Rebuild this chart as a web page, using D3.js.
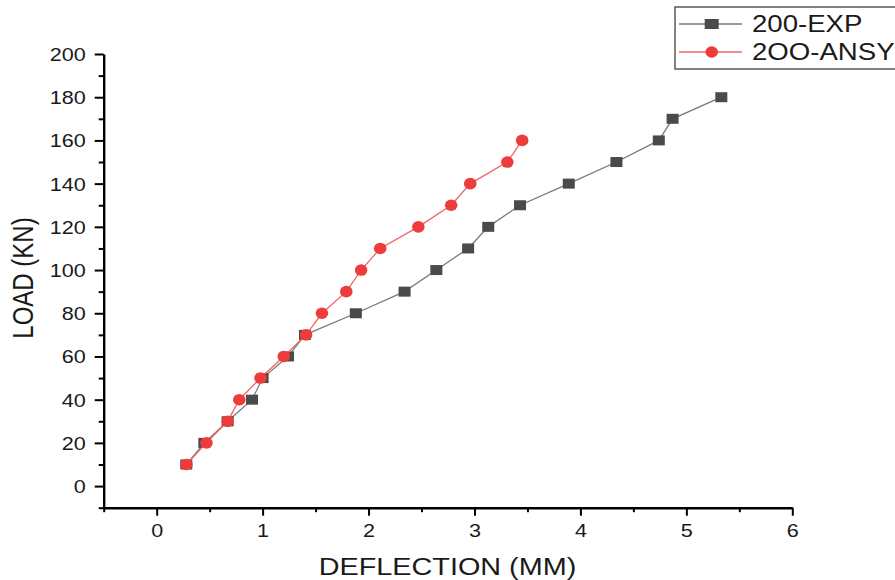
<!DOCTYPE html>
<html>
<head>
<meta charset="utf-8">
<title>Load vs Deflection</title>
<script src="https://d3js.org/d3.v7.min.js"></script>
<style>
  body { margin: 0; background: #fff; }
  svg { display: block; font-family: "Liberation Sans", Arial, sans-serif; }
</style>
</head>
<body>
<script>
// data
var expDefl   = [0.28, 0.45, 0.67, 0.90, 1.00, 1.24, 1.40, 1.88, 2.34, 2.64, 2.94, 3.13, 3.43, 3.89, 4.34, 4.74, 4.87, 5.33];
var expLoad   = [10, 20, 30, 40, 50, 60, 70, 80, 90, 100, 110, 120, 130, 140, 150, 160, 170, 180];
var ansysDefl = [0.28, 0.47, 0.67, 0.78, 0.98, 1.20, 1.41, 1.56, 1.79, 1.93, 2.11, 2.47, 2.78, 2.96, 3.31, 3.45];
var ansysLoad = [10, 20, 30, 40, 50, 60, 70, 80, 90, 100, 110, 120, 130, 140, 150, 160];
var seriesNames = ["200-EXP", "2OO-ANSYS"];
var xTicks = [0, 1, 2, 3, 4, 5, 6];
var yTicks = [0, 20, 40, 60, 80, 100, 120, 140, 160, 180, 200];

var width = 895, height = 580;
var stretch = 1.2; // the reference text is a little wider than plain Arial

var svg = d3.select("body").append("svg")
    .attr("width", width)
    .attr("height", height);

svg.append("rect").attr("width", width).attr("height", height).attr("fill", "#fff");

var x = d3.scaleLinear().domain([-0.5, 6]).range([103.7, 792.3]);
var y = d3.scaleLinear().domain([-10, 200]).range([507.7, 54]);

var exp = expDefl.map(function(d, i) { return [d, expLoad[i]]; });
var ansys = ansysDefl.map(function(d, i) { return [d, ansysLoad[i]]; });

// minor ticks first
svg.append("g")
    .attr("transform", "translate(0," + y(-10) + ")")
    .call(d3.axisBottom(x).tickValues(d3.range(-0.5, 6.01, 0.5).filter(function(v) { return v % 1 !== 0; }))
        .tickSize(4.5).tickSizeOuter(0).tickFormat(""))
    .call(function(g) { g.select(".domain").remove(); })
    .selectAll("line").attr("stroke", "#000").attr("stroke-width", 2);

svg.append("g")
    .attr("transform", "translate(" + x(-0.5) + ",0)")
    .call(d3.axisLeft(y).tickValues(d3.range(-10, 200, 20)).tickSize(5).tickSizeOuter(0).tickFormat(""))
    .call(function(g) { g.select(".domain").remove(); })
    .selectAll("line").attr("stroke", "#000").attr("stroke-width", 2);

// major axes
var xAxis = svg.append("g")
    .attr("transform", "translate(0," + y(-10) + ")")
    .call(d3.axisBottom(x).tickValues(xTicks).tickFormat(d3.format("d")).tickSize(8).tickSizeOuter(0));

var yAxis = svg.append("g")
    .attr("transform", "translate(" + x(-0.5) + ",0)")
    .call(d3.axisLeft(y).tickValues(yTicks).tickFormat(d3.format("d")).tickSize(9).tickSizeOuter(0));

[xAxis, yAxis].forEach(function(a) {
  a.select(".domain").attr("stroke", "#000").attr("stroke-width", 2.4);
  a.selectAll(".tick line").attr("stroke", "#000").attr("stroke-width", 2);
  a.selectAll("text")
      .attr("font-family", "'Liberation Sans', Arial, sans-serif")
      .attr("font-size", 18)
      .attr("fill", "#1a1a1a")
      .attr("x", 0).attr("y", 0).attr("dy", 0);
});
xAxis.selectAll(".tick text")
    .attr("text-anchor", "middle")
    .attr("transform", "translate(0,29) scale(" + stretch + ",1)");
yAxis.selectAll(".tick text")
    .attr("text-anchor", "end")
    .attr("transform", "translate(-18,6.5) scale(" + stretch + ",1)");

// axis titles
svg.append("text")
    .attr("transform", "translate(447.5,575) scale(" + stretch + ",1)")
    .attr("text-anchor", "middle")
    .attr("font-size", 24)
    .attr("fill", "#1a1a1a")
    .text("DEFLECTION (MM)");

svg.append("text")
    .attr("transform", "translate(33,278) scale(" + stretch + ",1) rotate(-90)")
    .attr("text-anchor", "middle")
    .attr("font-size", 24)
    .attr("fill", "#1a1a1a")
    .text("LOAD (KN)");

var line = d3.line()
    .x(function(d) { return x(d[0]); })
    .y(function(d) { return y(d[1]); });

// 200-EXP
svg.append("path")
    .datum(exp)
    .attr("fill", "none")
    .attr("stroke", "#7a7a7a")
    .attr("stroke-width", 1.3)
    .attr("d", line);

svg.selectAll(".sq")
    .data(exp)
    .enter()
    .append("rect")
    .attr("class", "sq")
    .attr("x", function(d) { return x(d[0]) - 6; })
    .attr("y", function(d) { return y(d[1]) - 5; })
    .attr("width", 12)
    .attr("height", 10)
    .attr("fill", "#4a4a4a");

// 2OO-ANSYS
svg.append("path")
    .datum(ansys)
    .attr("fill", "none")
    .attr("stroke", "#f26464")
    .attr("stroke-width", 1.3)
    .attr("d", line);

svg.selectAll(".dot")
    .data(ansys)
    .enter()
    .append("ellipse")
    .attr("class", "dot")
    .attr("cx", function(d) { return x(d[0]); })
    .attr("cy", function(d) { return y(d[1]); })
    .attr("rx", 6.3)
    .attr("ry", 5.8)
    .attr("fill", "#ee3b3b");

// legend (runs off the right edge, as in the reference)
var legend = svg.append("g");
legend.append("rect")
    .attr("x", 675).attr("y", 7)
    .attr("width", 240).attr("height", 62)
    .attr("fill", "#fff")
    .attr("stroke", "#5a5a5a")
    .attr("stroke-width", 1.5);

var rows = [24, 52];
legend.selectAll(".lline")
    .data(seriesNames)
    .enter()
    .append("line")
    .attr("x1", 679).attr("x2", 742)
    .attr("y1", function(d, i) { return rows[i]; })
    .attr("y2", function(d, i) { return rows[i]; })
    .attr("stroke", function(d, i) { return i === 0 ? "#7a7a7a" : "#f26464"; })
    .attr("stroke-width", 1.3);

legend.append("rect")
    .attr("x", 711.7 - 7).attr("y", rows[0] - 5)
    .attr("width", 14).attr("height", 10)
    .attr("fill", "#4a4a4a");

legend.append("ellipse")
    .attr("cx", 711.7).attr("cy", rows[1])
    .attr("rx", 6.3).attr("ry", 5.8)
    .attr("fill", "#ee3b3b");

legend.selectAll(".ltext")
    .data(seriesNames)
    .enter()
    .append("text")
    .attr("transform", function(d, i) { return "translate(752," + (i === 0 ? 32 : 60) + ") scale(" + stretch + ",1)"; })
    .attr("font-size", 23)
    .attr("fill", "#1a1a1a")
    .text(function(d) { return d; });
</script>
</body>
</html>
